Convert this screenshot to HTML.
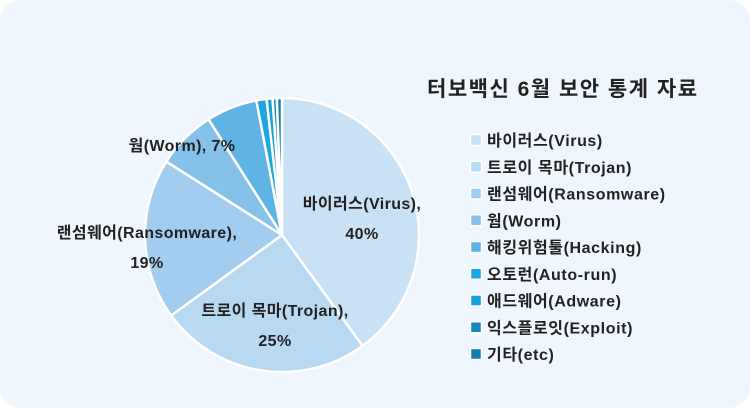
<!DOCTYPE html>
<html><head><meta charset="utf-8"><style>
html,body{margin:0;padding:0;background:#fff}
#card{position:relative;width:750px;height:408px;background:#eff6fd;border-radius:22px;overflow:hidden;font-family:"Liberation Sans","Noto Sans CJK KR",sans-serif;color:#222}
svg text{font-family:"Liberation Sans","Noto Sans CJK KR",sans-serif;font-weight:bold;fill:#222}
</style></head><body>
<div id="card">
<svg id="chart" width="750" height="408"></svg>
</div>
<script>
const categories=["바이러스(Virus)","트로이 목마(Trojan)","랜섬웨어(Ransomware)","웜(Worm)","해킹위험툴(Hacking)","오토런(Auto-run)","애드웨어(Adware)","익스플로잇(Exploit)","기타(etc)"];
const values=[40,25,19,7,6,1.2,0.7,0.5,0.6];
const colors=["#c9e1f5","#b8d9f2","#a2cdee","#86c1ea","#5fb3e5","#1ba8e0","#179fd7","#1589bd","#147fae"];
const NS="http://www.w3.org/2000/svg";
const svg=document.getElementById('chart');
function mk(t,a){const e=document.createElementNS(NS,t);for(const k in a)e.setAttribute(k,a[k]);svg.appendChild(e);return e;}
const cx=282,cy=235,r=137;
const total=values.reduce((a,b)=>a+b,0);
function pt(f,rr){const a=f*2*Math.PI-Math.PI/2;return [cx+rr*Math.cos(a),cy+rr*Math.sin(a)];}
let acc=0;
values.forEach((v,i)=>{
  const f0=acc/total,f1=(acc+v)/total;acc+=v;
  const p0=pt(f0,r),p1=pt(f1,r);
  const large=(f1-f0)>0.5?1:0;
  const p=mk('path',{d:`M${cx},${cy}L${p0[0]},${p0[1]}A${r},${r} 0 ${large} 1 ${p1[0]},${p1[1]}Z`,fill:colors[i],stroke:'#fff','stroke-width':2.5,'stroke-linejoin':'round'});
  
  
});
const t=mk('text',{x:427,y:96,'font-size':21,'letter-spacing':1.5});t.textContent="터보백신 6월 보안 통계 자료";


const labelLines=[["바이러스(Virus),","40%"],["트로이 목마(Trojan),","25%"],["랜섬웨어(Ransomware),","19%"],["웜(Worm), 7%"]];
const labelPos=[[362,209],[275,316],[147,238],[182,151]];
labelLines.forEach((ls,i)=>{
  ls.forEach((s,j)=>{
    const e=mk('text',{x:labelPos[i][0],y:labelPos[i][1]+j*30,'font-size':16,'text-anchor':'middle','letter-spacing':0.4});
    e.textContent=s;
    
    
  });
});
categories.forEach((c,i)=>{
  const y=140+i*26.75;
  const sq=mk('rect',{x:470.5,y:y-5.5,width:11,height:11,fill:colors[i],stroke:'#fff','stroke-width':1.5});
  
  
  const e=mk('text',{x:487,y:y+6,'font-size':16,'letter-spacing':0.6});
  e.textContent=c;
  
  
});
</script>
</body></html>
